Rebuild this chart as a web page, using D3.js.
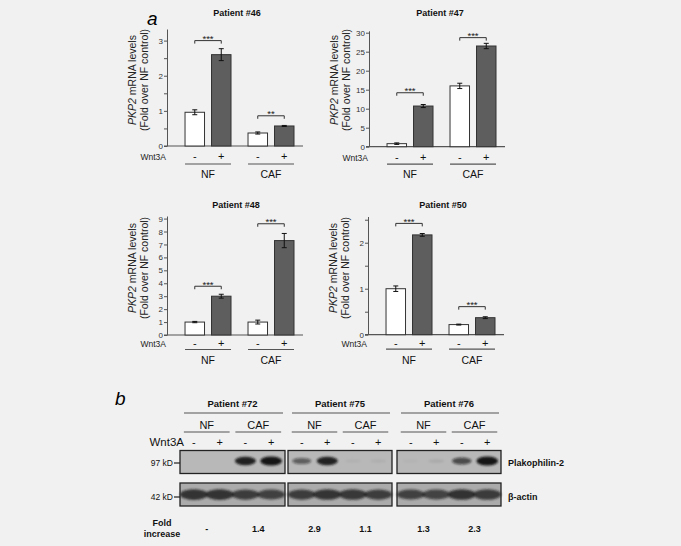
<!DOCTYPE html>
<html>
<head>
<meta charset="utf-8">
<script src="https://cdn.jsdelivr.net/npm/d3@7"></script>
<style>
  body { margin: 0; background: #f1f1f1; }
  text { font-family: Arial, "Liberation Sans", sans-serif; }
</style>
</head>
<body>
<script>
// ---- data (a) ----
var groups = ["NF", "CAF"];
var treatments = ["-", "+"];

var p46Means = [0.96, 2.60, 0.37, 0.57];
var p46Errors = [0.07, 0.17, 0.03, 0.015];
var p46Ticks = [0, 0.5, 1, 1.5, 2, 2.5, 3];
var p46Sig = ["***", "**"];
var p46Brackets = [3.0, 0.86];

var p47Means = [0.8, 10.7, 16.0, 26.5];
var p47Errors = [0.2, 0.4, 0.7, 0.7];
var p47Ticks = [0, 5, 10, 15, 20, 25, 30];
var p47Sig = ["***", "***"];
var p47Brackets = [14.2, 28.7];

var p48Means = [1.0, 3.0, 1.0, 7.3];
var p48Errors = [0.05, 0.15, 0.15, 0.55];
var p48Ticks = [0, 1, 2, 3, 4, 5, 6, 7, 8, 9];
var p48Sig = ["***", "***"];
var p48Brackets = [3.77, 8.6];

var p50Means = [1.0, 2.17, 0.22, 0.37];
var p50Errors = [0.06, 0.03, 0.01, 0.02];
var p50Ticks = [0, 0.5, 1, 1.5, 2, 2.5];
var p50Sig = ["***", "***"];
var p50Brackets = [2.42, 0.61];

// ---- data (b) ----
var blotPatients = ["Patient #72", "Patient #75", "Patient #76"];
var blotLanes = ["NF-", "NF+", "CAF-", "CAF+"];
var plakophilin = [[0, 0, 0.85, 0.95], [0.5, 0.85, 0.04, 0.05], [0.03, 0.07, 0.6, 0.95]];
var actin = [[0.95, 0.95, 0.85, 0.82], [0.85, 0.9, 0.88, 0.85], [0.82, 0.8, 0.92, 0.86]];
var foldIncrease = [["-", "1.4"], ["2.9", "1.1"], ["1.3", "2.3"]];

var svg = d3.select("body").append("svg").attr("width", 681).attr("height", 546);
svg.append("rect").attr("width", 681).attr("height", 546).attr("fill", "#f1f1f1");

var axisCol = "#555";

svg.append("text").attr("x", 147).attr("y", 25).attr("font-size", 19).attr("font-style", "italic").text("a");
svg.append("text").attr("x", 115).attr("y", 405).attr("font-size", 19).attr("font-style", "italic").text("b");

function dessinePanneau(lay, titre, moyennes, erreurs, ticks, sig, crochets) {
    var g = svg.append("g");
    var y = d3.scaleLinear().domain([0, lay.max]).range([lay.y0, lay.yTop]);
    var xg = d3.scaleBand().domain(groups).range([lay.x, lay.x + 136])
        .paddingInner(0.27).paddingOuter(0.2145).align(0.667);
    var xs = d3.scaleBand().domain(treatments).range([0, xg.bandwidth()]).paddingInner(0.264);

    g.append("text").attr("x", lay.tx).attr("y", lay.ty).attr("text-anchor", "middle")
        .attr("font-size", 9).attr("font-weight", "bold").attr("fill", "#111").text(titre);

    // axe y
    var ay = g.append("g").attr("transform", "translate(" + lay.x + ",0)")
        .call(d3.axisLeft(y).tickValues(ticks).tickSize(3).tickSizeOuter(0).tickPadding(1)
            .tickFormat(function(d) { return Number.isInteger(d) ? d : ""; }));
    ay.select(".domain").attr("stroke", axisCol);
    ay.selectAll("line").attr("stroke", axisCol);
    ay.selectAll("text").attr("font-size", 8).attr("fill", "#333").attr("font-family", "Arial, Liberation Sans, sans-serif");

    // axe x
    g.append("line").attr("x1", lay.x - 3).attr("x2", lay.x + 136).attr("y1", lay.y0).attr("y2", lay.y0)
        .attr("stroke", axisCol).attr("stroke-width", 1.2);

    // titre y
    var lab = g.append("text").attr("transform", "translate(" + (lay.x - 31) + "," + lay.ly + ") rotate(-90)")
        .attr("text-anchor", "middle").attr("font-size", 10.5).attr("fill", "#222");
    lab.append("tspan").attr("font-style", "italic").text("PKP2");
    lab.append("tspan").text(" mRNA levels");
    g.append("text").attr("transform", "translate(" + (lay.x - 19) + "," + lay.ly + ") rotate(-90)")
        .attr("text-anchor", "middle").attr("font-size", 10.5).attr("fill", "#222").text("(Fold over NF control)");

    var barres = [];
    groups.forEach(function(gr, gi) {
        treatments.forEach(function(t, ti) {
            barres.push({ g: gr, t: t, v: moyennes[gi * 2 + ti], e: erreurs[gi * 2 + ti] });
        });
    });

    g.selectAll("rect.bar").data(barres).enter().append("rect")
        .attr("x", function(d) { return xg(d.g) + xs(d.t); })
        .attr("width", xs.bandwidth())
        .attr("y", function(d) { return y(d.v); })
        .attr("height", function(d) { return y(0) - y(d.v); })
        .attr("fill", function(d) { return d.t == "+" ? "#5e5e5e" : "#ffffff"; })
        .attr("stroke", "#333").attr("stroke-width", 1);

    barres.forEach(function(d) {
        var cx = xg(d.g) + xs(d.t) + xs.bandwidth() / 2;
        var y1 = y(d.v - d.e), y2 = y(d.v + d.e);
        g.append("path").attr("d", "M" + cx + "," + y1 + "V" + y2 + "M" + (cx - 2.5) + "," + y1 + "h5M" + (cx - 2.5) + "," + y2 + "h5")
            .attr("stroke", "#111").attr("stroke-width", 1).attr("fill", "none");
        g.append("text").attr("x", cx).attr("y", lay.y0 + lay.wy).attr("text-anchor", "middle")
            .attr("font-size", 11).attr("fill", "#111").text(d.t);
    });

    groups.forEach(function(gr, gi) {
        var x1 = xg(gr) + xs("-") + xs.bandwidth() / 2;
        var x2 = xg(gr) + xs("+") + xs.bandwidth() / 2;
        var yb = y(crochets[gi]);
        g.append("path").attr("d", "M" + x1 + "," + (yb + 3) + "V" + yb + "H" + x2 + "V" + (yb + 3))
            .attr("stroke", "#333").attr("fill", "none").attr("stroke-width", 1);
        g.append("text").attr("x", (x1 + x2) / 2).attr("y", yb + 1.5).attr("text-anchor", "middle")
            .attr("font-size", 9.5).attr("fill", "#222").text(sig[gi]);
        g.append("line").attr("x1", xg(gr)).attr("x2", xg(gr) + xg.bandwidth())
            .attr("y1", lay.y0 + lay.gl).attr("y2", lay.y0 + lay.gl).attr("stroke", axisCol).attr("stroke-width", 1.2);
        g.append("text").attr("x", xg(gr) + xg.bandwidth() / 2).attr("y", lay.y0 + lay.gy)
            .attr("text-anchor", "middle").attr("font-size", 10.5).attr("fill", "#111").text(gr);
    });

    g.append("text").attr("x", lay.x - 1).attr("y", lay.y0 + lay.wy).attr("text-anchor", "end")
        .attr("font-size", 8.5).attr("fill", "#222").text("Wnt3A");
}

dessinePanneau({ x: 167, y0: 146, yTop: 29, max: 3.33, tx: 237, ty: 16, ly: 80, wy: 14, gl: 18, gy: 32 },
    "Patient #46", p46Means, p46Errors, p46Ticks, p46Sig, p46Brackets);
dessinePanneau({ x: 369, y0: 146.7, yTop: 30.8, max: 30.5, tx: 440, ty: 16, ly: 80, wy: 14, gl: 17.5, gy: 31.5 },
    "Patient #47", p47Means, p47Errors, p47Ticks, p47Sig, p47Brackets);
dessinePanneau({ x: 167, y0: 335, yTop: 216, max: 9.2, tx: 236, ty: 208, ly: 268, wy: 12, gl: 14.5, gy: 29 },
    "Patient #48", p48Means, p48Errors, p48Ticks, p48Sig, p48Brackets);
dessinePanneau({ x: 368, y0: 334.7, yTop: 216.5, max: 2.57, tx: 443, ty: 208, ly: 268, wy: 12, gl: 14.5, gy: 29 },
    "Patient #50", p50Means, p50Errors, p50Ticks, p50Sig, p50Brackets);

// ---- (b) western blot ----
var defs = svg.append("defs");
defs.append("filter").attr("id", "flou").attr("x", "-30%").attr("y", "-60%").attr("width", "160%").attr("height", "220%")
    .append("feGaussianBlur").attr("stdDeviation", 1.3);

var blotX = [[180, 285], [288, 392], [397, 501]];
var plakoY = [450.5, 473.5];
var actinY = [483, 506];

blotPatients.forEach(function(p, pi) {
    var x0 = blotX[pi][0], x1 = blotX[pi][1];
    var lane = d3.scaleBand().domain(blotLanes).range([x0 + 1, x1 - 1]);
    var c = function(l) { return lane(l) + lane.bandwidth() / 2; };

    svg.append("text").attr("x", (x0 + x1) / 2).attr("y", 407).attr("text-anchor", "middle")
        .attr("font-size", 9.5).attr("font-weight", "bold").attr("fill", "#111").text(p);
    svg.append("line").attr("x1", x0 + 4).attr("x2", x1 - 2).attr("y1", 413).attr("y2", 413).attr("stroke", axisCol).attr("stroke-width", 1.2);

    groups.forEach(function(gr, gi) {
        var a = c(blotLanes[gi * 2]) - 10, b = c(blotLanes[gi * 2 + 1]) + 10;
        svg.append("line").attr("x1", a).attr("x2", b).attr("y1", 432).attr("y2", 432).attr("stroke", axisCol).attr("stroke-width", 1.2);
        svg.append("text").attr("x", (a + b) / 2).attr("y", 429).attr("text-anchor", "middle")
            .attr("font-size", 11).attr("fill", "#111").text(gr);
        svg.append("text").attr("x", (c(blotLanes[gi * 2]) + c(blotLanes[gi * 2 + 1])) / 2).attr("y", 532)
            .attr("text-anchor", "middle").attr("font-size", 9).attr("font-weight", "bold").attr("fill", "#111")
            .text(foldIncrease[pi][gi]);
    });

    blotLanes.forEach(function(l, li) {
        svg.append("text").attr("x", c(l)).attr("y", 446).attr("text-anchor", "middle")
            .attr("font-size", 11).attr("fill", "#111").text(treatments[li % 2]);
    });

    // plakophilin
    var bg1 = svg.append("g");
    bg1.append("rect").attr("x", x0).attr("y", plakoY[0]).attr("width", x1 - x0).attr("height", plakoY[1] - plakoY[0])
        .attr("fill", "#b8b8b8");
    bg1.append("g").attr("filter", "url(#flou)").selectAll("ellipse").data(plakophilin[pi]).enter().append("ellipse")
        .attr("cx", function(d, i) { return c(blotLanes[i]); })
        .attr("cy", 461)
        .attr("rx", function(d) { return 8 + 3 * d; })
        .attr("ry", function(d) { return 1.5 + 3.2 * d; })
        .attr("fill", "#151515")
        .attr("opacity", function(d) { return Math.min(1, d * 1.1); });
    bg1.append("rect").attr("x", x0).attr("y", plakoY[0]).attr("width", x1 - x0).attr("height", plakoY[1] - plakoY[0])
        .attr("fill", "none").attr("stroke", "#222").attr("stroke-width", 1.3);

    // actine
    var bg2 = svg.append("g");
    bg2.append("rect").attr("x", x0).attr("y", actinY[0]).attr("width", x1 - x0).attr("height", actinY[1] - actinY[0])
        .attr("fill", "#ababab");
    bg2.append("g").attr("filter", "url(#flou)").selectAll("ellipse").data(actin[pi]).enter().append("ellipse")
        .attr("cx", function(d, i) { return c(blotLanes[i]); })
        .attr("cy", 494.5)
        .attr("rx", 14)
        .attr("ry", function(d) { return 3 + 2.5 * d; })
        .attr("fill", "#1c1c1c")
        .attr("opacity", function(d) { return d * 0.9; });
    bg2.append("rect").attr("x", x0).attr("y", actinY[0]).attr("width", x1 - x0).attr("height", actinY[1] - actinY[0])
        .attr("fill", "none").attr("stroke", "#222").attr("stroke-width", 1.3);
});

svg.append("text").attr("x", 184).attr("y", 446).attr("text-anchor", "end").attr("font-size", 11.5).attr("fill", "#111").text("Wnt3A");

svg.append("text").attr("x", 173).attr("y", 466).attr("text-anchor", "end").attr("font-size", 8.5).attr("fill", "#111").text("97 kD");
svg.append("line").attr("x1", 174).attr("x2", 180).attr("y1", 463).attr("y2", 463).attr("stroke", "#222").attr("stroke-width", 1.2);
svg.append("text").attr("x", 173).attr("y", 500).attr("text-anchor", "end").attr("font-size", 8.5).attr("fill", "#111").text("42 kD");
svg.append("line").attr("x1", 174).attr("x2", 180).attr("y1", 497).attr("y2", 497).attr("stroke", "#222").attr("stroke-width", 1.2);

svg.append("text").attr("x", 508).attr("y", 466).attr("font-size", 9).attr("font-weight", "bold").attr("fill", "#111").text("Plakophilin-2");
svg.append("text").attr("x", 508).attr("y", 500).attr("font-size", 9).attr("font-weight", "bold").attr("fill", "#111").text("β-actin");

svg.append("text").attr("x", 162).attr("y", 526).attr("text-anchor", "middle").attr("font-size", 9).attr("font-weight", "bold").attr("fill", "#111").text("Fold");
svg.append("text").attr("x", 162).attr("y", 537).attr("text-anchor", "middle").attr("font-size", 9).attr("font-weight", "bold").attr("fill", "#111").text("increase");
</script>
</body>
</html>
